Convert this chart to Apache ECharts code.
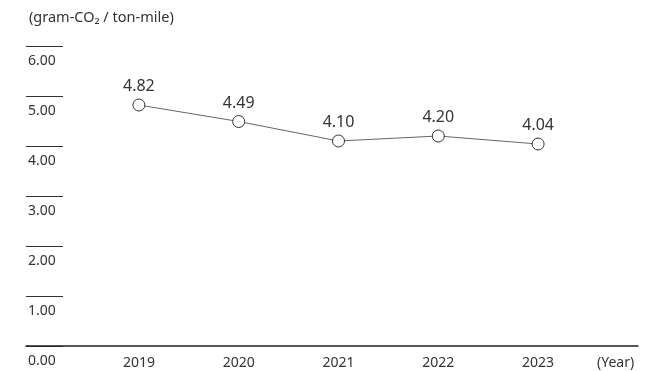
<!DOCTYPE html>
<html>
<head>
<meta charset="utf-8">
<style>
  html, body { margin: 0; padding: 0; background: #fff; }
  #chart { width: 655px; height: 371px; }
</style>
<script src="https://cdn.jsdelivr.net/npm/echarts@6/dist/echarts.min.js"></script>
</head>
<body>
<div id="chart"></div>
<script>
const years = ['2019', '2020', '2021', '2022', '2023']
const intensity = [4.82, 4.49, 4.10, 4.20, 4.04]
const yTicks = [0, 1, 2, 3, 4, 5, 6]
const unitLabel = '(gram-CO\u2082 / ton-mile)'
const yearLabel = '(Year)'

const font = '"Noto Sans", sans-serif'
const textColor = '#333'

const chart = echarts.init(document.getElementById('chart'))

chart.setOption({
  animation: false,
  title: {
    text: unitLabel,
    left: 24,
    top: 5,
    textStyle: {fontSize: 14.5, fontWeight: 'normal', color: textColor, fontFamily: font}
  },
  grid: [
    // main plot
    {left: 89, right: 67, top: 46, bottom: 25},
    // short tick lines + y labels on the left
    {left: 26, width: 37, top: 46, bottom: 25},
    // long base line
    {left: 26, right: 17, top: 46, bottom: 25}
  ],
  xAxis: [
    {
      gridIndex: 0,
      type: 'category',
      data: years,
      boundaryGap: true,
      axisLine: {show: false},
      axisTick: {show: false},
      axisLabel: {fontSize: 14, color: textColor, fontFamily: font, margin: 10},
      name: yearLabel,
      nameLocation: 'end',
      nameGap: 9,
      nameTextStyle: {fontSize: 14, color: textColor, fontFamily: font, verticalAlign: 'top', padding: [10, 0, 0, 0]}
    },
    {gridIndex: 1, type: 'value', show: false},
    {
      gridIndex: 2,
      type: 'value',
      axisLine: {show: true, onZero: false, lineStyle: {color: '#222', width: 1.5}},
      axisTick: {show: false},
      axisLabel: {show: false},
      splitLine: {show: false}
    }
  ],
  yAxis: [
    {gridIndex: 0, type: 'value', min: 0, max: 6, interval: 1, show: false},
    {
      gridIndex: 1,
      type: 'value',
      min: yTicks[0],
      max: yTicks[yTicks.length - 1],
      interval: 1,
      axisLine: {show: false},
      axisTick: {show: false},
      splitLine: {show: true, lineStyle: {color: '#333', width: 1}},
      axisLabel: {
        align: 'left',
        verticalAlign: 'top',
        margin: -2,
        padding: [8, 0, 0, 0],
        fontSize: 14,
        color: textColor,
        fontFamily: font,
        formatter: v => v.toFixed(2)
      }
    },
    {gridIndex: 2, type: 'value', show: false}
  ],
  series: [
    {
      type: 'line',
      xAxisIndex: 0,
      yAxisIndex: 0,
      data: intensity,
      symbol: 'circle',
      symbolSize: 12,
      lineStyle: {color: '#666', width: 1},
      itemStyle: {color: '#fff', borderColor: '#333', borderWidth: 1},
      label: {
        show: true,
        position: 'top',
        distance: 4,
        fontSize: 16,
        color: textColor,
        fontFamily: font,
        formatter: p => p.value.toFixed(2)
      }
    }
  ]
})
</script>
</body>
</html>
